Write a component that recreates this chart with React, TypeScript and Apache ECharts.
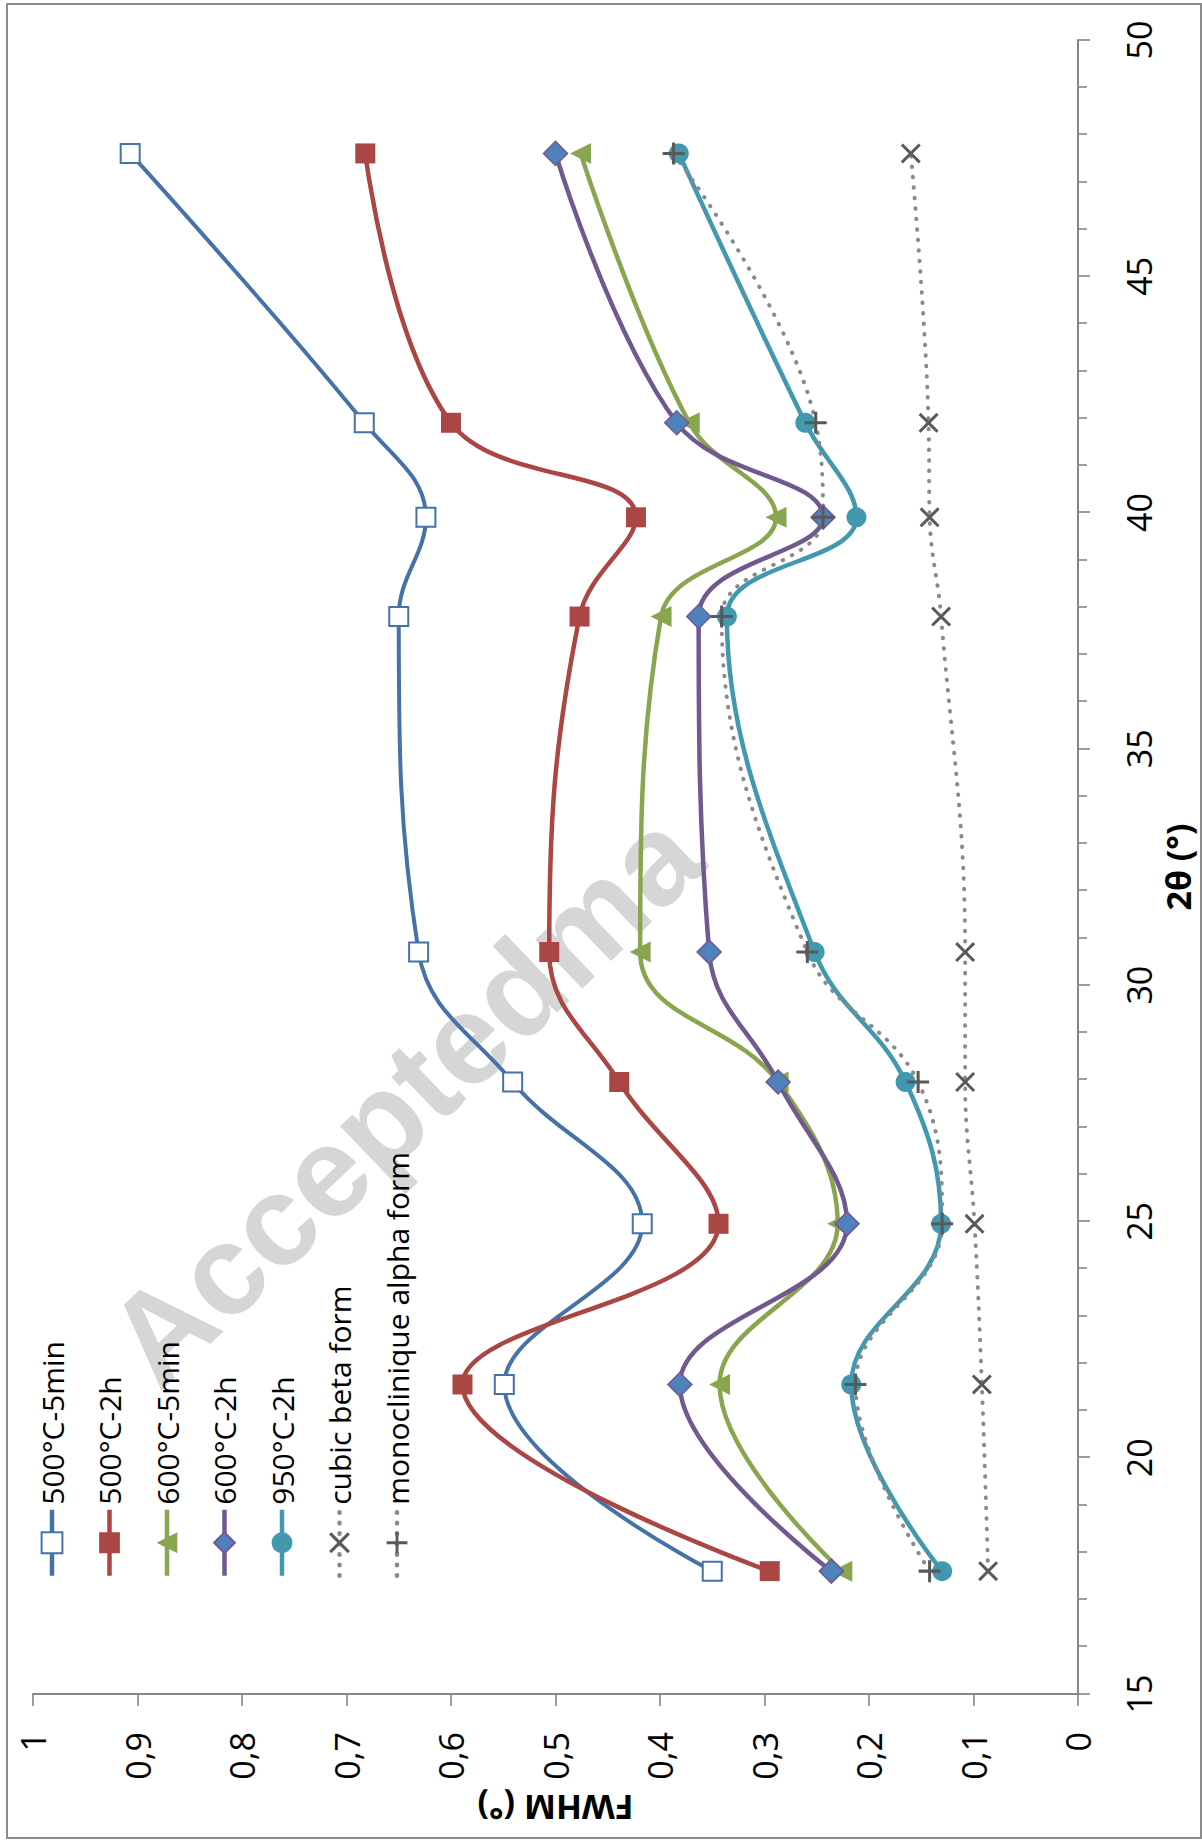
import React, { useEffect, useRef } from "react";
import * as echarts from "echarts";

// ---------- data ----------
const twoTheta = [17.6, 21.55, 24.95, 27.95, 30.7, 37.8, 39.9, 41.9, 47.6];
const fwhm500_5min = [0.35, 0.549, 0.417, 0.541, 0.631, 0.65, 0.624, 0.683, 0.907];
const fwhm500_2h = [0.295, 0.589, 0.344, 0.439, 0.506, 0.477, 0.423, 0.6, 0.682];
const fwhm600_5min = [0.226, 0.343, 0.23, 0.287, 0.419, 0.399, 0.289, 0.372, 0.476];
const fwhm600_2h = [0.236, 0.381, 0.221, 0.287, 0.353, 0.363, 0.244, 0.384, 0.5];
const fwhm950_2h = [0.13, 0.217, 0.131, 0.165, 0.252, 0.336, 0.212, 0.261, 0.382];
const fwhmCubicBeta = [0.086, 0.092, 0.099, 0.108, 0.108, 0.131, 0.142, 0.143, 0.16];
const fwhmMonoAlpha = [0.142, 0.213, 0.13, 0.153, 0.259, 0.341, 0.244, 0.251, 0.387];

const seriesNames = [
  "500°C-5min",
  "500°C-2h",
  "600°C-5min",
  "600°C-2h",
  "950°C-2h",
  "cubic beta form",
  "monoclinique alpha form",
];
const thetaTickLabels = ["15", "20", "25", "30", "35", "40", "45", "50"];
const fwhmTickLabels = ["0", "0,1", "0,2", "0,3", "0,4", "0,5", "0,6", "0,7", "0,8", "0,9", "1"];
const xAxisTitle = "2θ (°)";
const yAxisTitle = "FWHM (°)";
const watermark = "Acceptedma";

// ---------- layout (landscape chart, rotated -90deg on page) ----------
const LW = 1845;
const LH = 1202;
const FONT = "'Open Sans', 'Noto Sans', sans-serif";
const AXIS_GRAY = "#868686";

const X_PATH =
  "path://M0,2.1L2.1,0L10,7.9L17.9,0L20,2.1L12.1,10L20,17.9L17.9,20L10,12.1L2.1,20L0,17.9L7.9,10Z";
const PLUS_PATH =
  "path://M8.6,0H11.4V8.6H20V11.4H11.4V20H8.6V11.4H0V8.6H8.6Z";

function pts(vals: number[]) {
  return twoTheta.map((t, i) => [t, vals[i]]);
}

const SMOOTH = 0.4;

function solidSeries(
  name: string,
  vals: number[],
  lineColor: string,
  symbol: string,
  symbolSize: number,
  fill: string,
  border: string,
  borderWidth: number,
  lineWidth = 4.5
) {
  return {
    name,
    type: "line",
    data: pts(vals),
    smooth: SMOOTH,
    symbol,
    symbolSize,
    showAllSymbol: true,
    color: lineColor,
    lineStyle: { color: lineColor, width: lineWidth },
    itemStyle: { color: fill, borderColor: border, borderWidth },
    emphasis: { disabled: true },
  };
}

function dottedSeries(name: string, vals: number[], symbol: string, symbolSize: number) {
  return {
    name,
    type: "line",
    data: pts(vals),
    smooth: SMOOTH,
    symbol,
    symbolSize,
    showAllSymbol: true,
    color: "#595959",
    lineStyle: { color: "#8a8a8a", width: 4, type: [0.5, 10], cap: "round" },
    itemStyle: { color: "#595959", borderWidth: 0 },
    emphasis: { disabled: true },
  };
}

export default function App() {
  const ref = useRef<HTMLDivElement>(null);

  useEffect(() => {
    if (!ref.current) return;
    const chart = echarts.init(ref.current, undefined, {
      renderer: "svg",
      width: LW,
      height: LH,
    });

    const option: any = {
      animation: false,
      backgroundColor: "transparent",
      grid: { left: 151, right: 40, top: 33, bottom: 124, containLabel: false },
      legend: {
        orient: "vertical",
        left: 262,
        top: 32,
        itemWidth: 66,
        itemHeight: 26,
        itemGap: 27.5,
        data: seriesNames,
        lineStyle: { width: 4.5 },
        textStyle: { fontFamily: FONT, fontSize: 30, color: "#000", lineHeight: 30 },
        selectedMode: false,
      },
      xAxis: {
        type: "value",
        min: 15,
        max: 50,
        interval: 5,
        name: xAxisTitle,
        nameLocation: "middle",
        nameGap: 83,
        nameTextStyle: { fontFamily: FONT, fontSize: 34, fontWeight: "bold", color: "#000" },
        axisLine: { show: true, onZero: false, lineStyle: { color: AXIS_GRAY, width: 2 } },
        axisTick: { show: true, length: 12, lineStyle: { color: AXIS_GRAY, width: 1.6 } },
        minorTick: { show: true, splitNumber: 5, length: 9, lineStyle: { color: AXIS_GRAY, width: 1.6 } },
        axisLabel: {
          fontFamily: FONT,
          fontSize: 34,
          color: "#000",
          margin: 44,
          formatter: (v: number) => thetaTickLabels[Math.round((v - 15) / 5)] ?? "",
        },
        splitLine: { show: false },
        minorSplitLine: { show: false },
      },
      yAxis: {
        type: "value",
        min: 0,
        max: 1,
        interval: 0.1,
        name: yAxisTitle,
        nameLocation: "middle",
        nameRotate: 90,
        nameGap: 96,
        nameTextStyle: { fontFamily: FONT, fontSize: 34, fontWeight: "bold", color: "#000" },
        axisLine: { show: true, lineStyle: { color: AXIS_GRAY, width: 2 } },
        axisTick: { show: true, length: 12, lineStyle: { color: AXIS_GRAY, width: 1.6 } },
        axisLabel: {
          fontFamily: FONT,
          fontSize: 34,
          color: "#000",
          margin: 38,
          formatter: (v: number) => fwhmTickLabels[Math.round(v * 10)] ?? "",
        },
        splitLine: { show: false },
      },
      series: [
        solidSeries(seriesNames[0], fwhm500_5min, "#4572A7", "rect", 19, "#ffffff", "#4572A7", 2, 4),
        solidSeries(seriesNames[1], fwhm500_2h, "#AA4643", "rect", 20, "#AA4643", "#AA4643", 0),
        solidSeries(seriesNames[2], fwhm600_5min, "#89A54E", "triangle", 21, "#89A54E", "#89A54E", 0),
        solidSeries(seriesNames[3], fwhm600_2h, "#71588F", "diamond", 24, "#4F81BD", "#71588F", 1.5),
        solidSeries(seriesNames[4], fwhm950_2h, "#4198AF", "circle", 20, "#4198AF", "#4198AF", 0),
        dottedSeries(seriesNames[5], fwhmCubicBeta, X_PATH, 20),
        dottedSeries(seriesNames[6], fwhmMonoAlpha, PLUS_PATH, 22),
      ],
    };

    chart.setOption(option);
    return () => chart.dispose();
  }, []);

  return (
    <div
      style={{
        position: "absolute",
        left: 0,
        top: 0,
        width: 1202,
        height: 1845,
        overflow: "hidden",
        background: "#ffffff",
      }}
    >
      {/* watermark behind the chart */}
      <div
        style={{
          position: "absolute",
          left: 404,
          top: 1098,
          transform: "translate(-50%, -50%) rotate(-43.7deg)",
          whiteSpace: "nowrap",
          font: "bold 128px 'Liberation Sans', Arial, sans-serif",
          color: "#d6d6d6",
          lineHeight: 1,
        }}
      >
        {watermark}
      </div>
      <div
        ref={ref}
        style={{
          position: "absolute",
          left: 0,
          top: 0,
          width: LW,
          height: LH,
          transformOrigin: "0 0",
          transform: `translateY(${LW}px) rotate(-90deg)`,
        }}
      />
      <div
        style={{
          position: "absolute",
          left: 6,
          top: 3,
          width: 1192,
          height: 1832,
          border: "2px solid #8c8c8c",
          pointerEvents: "none",
        }}
      />
    </div>
  );
}
